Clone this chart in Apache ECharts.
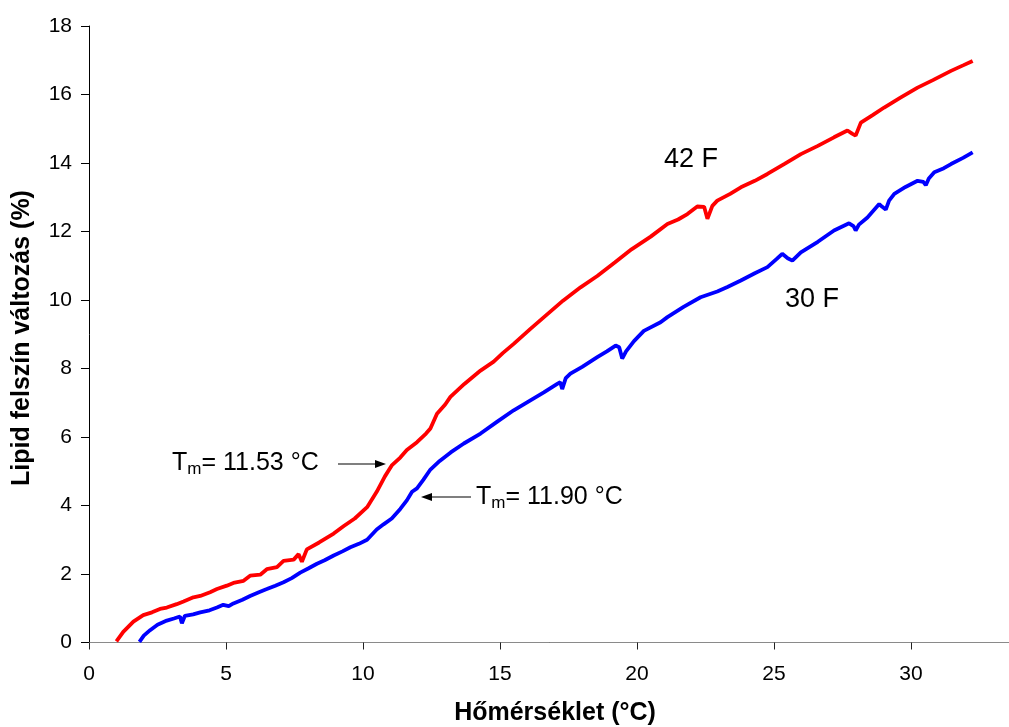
<!DOCTYPE html>
<html>
<head>
<meta charset="utf-8">
<script src="https://cdn.jsdelivr.net/npm/echarts@6/dist/echarts.min.js"></script>
<style>html,body{margin:0;padding:0;background:#fff}#c{width:1009px;height:727px}</style>
</head>
<body>
<div id="c"></div>
<script>
const xTicks = [0, 5, 10, 15, 20, 25, 30];
const yTicks = [0, 2, 4, 6, 8, 10, 12, 14, 16, 18];
const seriesNames = ['42 F', '30 F'];

const redX = [1.0,1.25,1.62,1.98,2.3,2.59,2.84,3.2,3.45,3.81,4.06,4.42,4.67,5.03,5.27,5.64,5.88,6.25,6.49,6.86,7.1,7.47,7.65,7.77,7.95,8.4,8.93,9.3,9.7,10.15,10.5,10.8,11.06,11.36,11.6,11.97,12.3,12.46,12.7,13.0,13.19,13.7,14.29,14.77,15.1,15.5,16.1,16.72,17.3,17.94,18.55,19.2,19.8,20.5,21.11,21.5,21.84,22.2,22.45,22.57,22.75,22.93,23.4,23.79,24.3,24.76,25.4,25.98,26.6,27.19,27.68,27.85,27.98,28.17,28.6,29.02,29.6,30.24,30.8,31.46,31.9,32.25];
const redY = [0.03,0.31,0.61,0.80,0.88,0.98,1.02,1.12,1.20,1.32,1.36,1.47,1.56,1.66,1.74,1.80,1.95,1.98,2.14,2.20,2.38,2.42,2.58,2.36,2.72,2.92,3.18,3.40,3.62,3.95,4.40,4.85,5.18,5.40,5.62,5.85,6.10,6.25,6.68,6.95,7.17,7.55,7.94,8.20,8.45,8.72,9.15,9.58,9.98,10.37,10.70,11.10,11.48,11.85,12.22,12.35,12.51,12.73,12.72,12.37,12.75,12.90,13.10,13.29,13.48,13.68,13.98,14.26,14.50,14.75,14.95,14.86,14.80,15.18,15.40,15.62,15.90,16.20,16.42,16.69,16.85,16.98];

const blueX = [1.84,2.0,2.23,2.5,2.84,3.1,3.32,3.39,3.5,3.8,4.06,4.4,4.67,4.9,5.1,5.27,5.6,5.88,6.2,6.49,6.8,7.1,7.4,7.71,8.0,8.32,8.6,8.93,9.25,9.54,9.85,10.15,10.5,10.75,11.05,11.36,11.6,11.79,11.97,12.2,12.46,12.8,13.2,13.68,14.29,14.9,15.5,16.11,16.6,17.09,17.2,17.27,17.4,17.57,18.0,18.55,18.9,19.22,19.35,19.46,19.6,19.89,20.25,20.86,21.11,21.7,22.32,22.93,23.3,23.79,24.3,24.76,25.1,25.3,25.5,25.67,25.98,26.6,27.19,27.74,27.9,27.98,28.1,28.41,28.84,28.95,29.08,29.2,29.39,29.8,30.24,30.45,30.54,30.65,30.85,31.2,31.46,31.9,32.25];
const blueY = [0.02,0.20,0.36,0.52,0.64,0.70,0.76,0.56,0.78,0.82,0.88,0.94,1.02,1.10,1.06,1.14,1.25,1.36,1.47,1.56,1.66,1.76,1.88,2.04,2.16,2.30,2.40,2.54,2.66,2.78,2.88,3.00,3.30,3.45,3.62,3.90,4.15,4.40,4.50,4.75,5.05,5.30,5.55,5.81,6.10,6.45,6.78,7.07,7.30,7.55,7.60,7.40,7.72,7.85,8.05,8.33,8.50,8.67,8.62,8.29,8.50,8.80,9.10,9.35,9.50,9.80,10.08,10.25,10.38,10.57,10.78,10.96,11.20,11.35,11.22,11.15,11.39,11.70,12.03,12.24,12.16,12.03,12.20,12.41,12.80,12.72,12.64,12.90,13.10,13.30,13.48,13.45,13.35,13.55,13.73,13.85,13.97,14.15,14.31];

const FONT = 'Arial, "Liberation Sans", sans-serif';
const zip = (xs, ys) => xs.map((x, i) => [x, ys[i]]);

const chart = echarts.init(document.getElementById('c'), null, {renderer: 'canvas'});

function arrow(x1, y1, x2, y2) {
  const dir = Math.sign(x2 - x1);
  return [
    {type: 'line', shape: {x1: x1, y1: y1, x2: x2 - dir * 9, y2: y2}, style: {stroke: '#000', lineWidth: 1.2}},
    {type: 'polygon', shape: {points: [[x2, y2], [x2 - dir * 11, y2 - 4], [x2 - dir * 11, y2 + 4]]}, style: {fill: '#000'}}
  ];
}

const tmRich = {
  t: {fontSize: 25, fontFamily: FONT, color: '#000', lineHeight: 30},
  s: {fontSize: 17, fontFamily: FONT, color: '#000', lineHeight: 30, verticalAlign: 'bottom'}
};

chart.setOption({
  animation: false,
  backgroundColor: '#fff',
  grid: {left: 89, top: 26, right: -39, bottom: 84.5, outerBoundsMode: 'none', containLabel: false},
  xAxis: [{
    type: 'value', min: 0, max: 35, interval: 5, position: 'bottom',
    axisLine: {show: true, onZero: false, lineStyle: {color: '#222', width: 1}},
    axisTick: {show: true, length: 7, lineStyle: {color: '#222'}},
    axisLabel: {fontSize: 21, fontFamily: FONT, color: '#000', margin: 21,
      formatter: v => xTicks.indexOf(v) >= 0 ? String(v) : ''},
    splitLine: {show: false}
  }, {
    type: 'value', min: 0, max: 35, position: 'top',
    axisLine: {show: true, lineStyle: {color: '#8a8a8a', width: 1}},
    axisTick: {show: false}, axisLabel: {show: false}, splitLine: {show: false}
  }],
  yAxis: {
    type: 'value', min: 0, max: 18, interval: 2,
    axisLine: {show: true, lineStyle: {color: '#000', width: 1}},
    axisTick: {show: true, length: 8, lineStyle: {color: '#000'}},
    axisLabel: {fontSize: 21, fontFamily: FONT, color: '#000', margin: 17,
      formatter: v => yTicks.indexOf(v) >= 0 ? String(v) : ''},
    splitLine: {show: false}
  },
  series: [{
    name: seriesNames[0], type: 'line', data: zip(redX, redY), showSymbol: false, symbol: 'none',
    lineStyle: {color: '#ff0000', width: 3.8}, itemStyle: {color: '#ff0000'}
  }, {
    name: seriesNames[1], type: 'line', data: zip(blueX, blueY), showSymbol: false, symbol: 'none',
    lineStyle: {color: '#0000ff', width: 3.8}, itemStyle: {color: '#0000ff'}
  }],
  graphic: [
    {type: 'text', x: 555, y: 713, style: {text: 'Hőmérséklet (°C)', font: 'bold 25px ' + FONT, fill: '#000', align: 'center', verticalAlign: 'middle'}},
    {type: 'text', x: 22, y: 338, rotation: Math.PI / 2, style: {text: 'Lipid felszín változás (%)', font: 'bold 25px ' + FONT, fill: '#000', align: 'center', verticalAlign: 'middle'}},
    {type: 'text', x: 691, y: 160, style: {text: seriesNames[0], font: '27px ' + FONT, fill: '#000', align: 'center', verticalAlign: 'middle'}},
    {type: 'text', x: 812, y: 300, style: {text: seriesNames[1], font: '27px ' + FONT, fill: '#000', align: 'center', verticalAlign: 'middle'}},
    {type: 'text', x: 172, y: 463, style: {text: '{t|T}{s|m}{t|= 11.53 °C}', rich: tmRich, align: 'left', verticalAlign: 'middle'}},
    {type: 'text', x: 476, y: 497, style: {text: '{t|T}{s|m}{t|= 11.90 °C}', rich: tmRich, align: 'left', verticalAlign: 'middle'}},
    ...arrow(338, 464, 386, 464),
    ...arrow(471, 497, 421, 497)
  ]
});
</script>
</body>
</html>
